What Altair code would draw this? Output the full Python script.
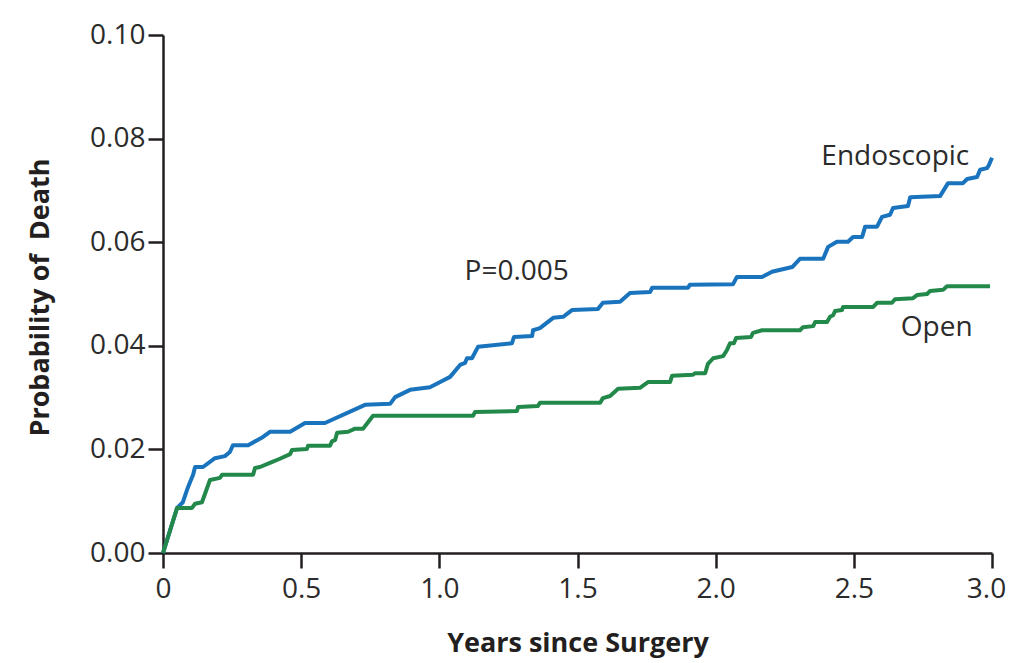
import altair as alt
import pandas as pd

# Endoscopic (blue) curve: years since surgery, probability of death
endo_years = [0, 0.051, 0.072, 0.087, 0.098, 0.109, 0.116, 0.145, 0.188, 0.224, 0.242, 0.253, 0.308,
              0.362, 0.387, 0.460, 0.514, 0.586, 0.731, 0.822, 0.840, 0.894, 0.966, 1.003, 1.039,
              1.075, 1.093, 1.100, 1.118, 1.140, 1.263, 1.270, 1.336, 1.339, 1.364, 1.412, 1.448,
              1.480, 1.574, 1.592, 1.654, 1.690, 1.763, 1.770, 1.900, 1.907, 2.063, 2.077, 2.168,
              2.204, 2.277, 2.305, 2.389, 2.407, 2.439, 2.479, 2.497, 2.530, 2.541, 2.584, 2.602,
              2.631, 2.642, 2.696, 2.704, 2.812, 2.841, 2.895, 2.910, 2.946, 2.957, 2.982, 2.989, 3.000]
endo_prob = [0, 0.0087, 0.0098, 0.0122, 0.0137, 0.0151, 0.0166, 0.0166, 0.0183, 0.0187, 0.0195, 0.0208, 0.0208,
             0.0224, 0.0234, 0.0234, 0.0251, 0.0251, 0.0286, 0.0288, 0.0301, 0.0315, 0.0320, 0.0330, 0.0340,
             0.0363, 0.0367, 0.0376, 0.0376, 0.0398, 0.0405, 0.0417, 0.0419, 0.0430, 0.0434, 0.0454, 0.0456,
             0.0469, 0.0471, 0.0483, 0.0485, 0.0502, 0.0504, 0.0512, 0.0512, 0.0518, 0.0519, 0.0533, 0.0533,
             0.0543, 0.0552, 0.0568, 0.0568, 0.0591, 0.0601, 0.0601, 0.0610, 0.0610, 0.0630, 0.0630, 0.0649,
             0.0653, 0.0666, 0.0670, 0.0687, 0.0689, 0.0714, 0.0714, 0.0722, 0.0726, 0.0740, 0.0743, 0.0749, 0.0763]

# Open (green) curve
open_years = [0, 0.051, 0.105, 0.116, 0.141, 0.170, 0.206, 0.214, 0.326, 0.333, 0.351, 0.387, 0.423,
              0.460, 0.467, 0.521, 0.525, 0.604, 0.612, 0.623, 0.630, 0.670, 0.695, 0.724, 0.760,
              1.122, 1.129, 1.281, 1.285, 1.357, 1.364, 1.582, 1.592, 1.618, 1.647, 1.726, 1.755,
              1.835, 1.842, 1.918, 1.925, 1.962, 1.972, 1.991, 2.027, 2.041, 2.052, 2.066, 2.074,
              2.128, 2.135, 2.168, 2.305, 2.316, 2.353, 2.360, 2.403, 2.414, 2.425, 2.432, 2.457,
              2.461, 2.570, 2.584, 2.638, 2.649, 2.714, 2.729, 2.765, 2.776, 2.823, 2.837, 2.993]
open_prob = [0, 0.0087, 0.0087, 0.0095, 0.0098, 0.0141, 0.0145, 0.0151, 0.0151, 0.0164, 0.0166, 0.0174, 0.0182,
             0.0191, 0.0199, 0.0201, 0.0207, 0.0207, 0.0216, 0.0218, 0.0232, 0.0234, 0.0240, 0.0240, 0.0265,
             0.0265, 0.0272, 0.0274, 0.0282, 0.0284, 0.0290, 0.0290, 0.0299, 0.0303, 0.0317, 0.0319, 0.0330,
             0.0330, 0.0342, 0.0344, 0.0347, 0.0347, 0.0365, 0.0376, 0.0380, 0.0392, 0.0405, 0.0405, 0.0415,
             0.0417, 0.0425, 0.0430, 0.0430, 0.0436, 0.0438, 0.0446, 0.0446, 0.0456, 0.0459, 0.0467, 0.0469,
             0.0475, 0.0475, 0.0483, 0.0483, 0.0490, 0.0492, 0.0498, 0.0500, 0.0506, 0.0508, 0.0515, 0.0515]

# Annotations
note_text = ["Endoscopic", "P=0.005", "Open"]
note_x = [2.65, 1.28, 2.80]
note_y = [0.0764, 0.0543, 0.0434]

x_ticks = [0, 0.5, 1.0, 1.5, 2.0, 2.5, 3.0]
y_ticks = [0.00, 0.02, 0.04, 0.06, 0.08, 0.10]

rows = []
for i, (xv, yv) in enumerate(zip(endo_years, endo_prob)):
    rows.append({"group": "Endoscopic", "years": xv, "prob": yv, "idx": i})
for i, (xv, yv) in enumerate(zip(open_years, open_prob)):
    rows.append({"group": "Open", "years": xv, "prob": yv, "idx": i})
df = pd.DataFrame(rows)
notes = pd.DataFrame({"text": note_text, "years": note_x, "prob": note_y})

FONT = "Open Sans"
AXIS_COLOR = "#231f20"

x_enc = alt.X("years:Q",
              scale=alt.Scale(domain=[0, 3], nice=False, zero=False),
              axis=alt.Axis(values=x_ticks, title="Years since Surgery",
                            labelExpr="datum.value == 0 ? '0' : format(datum.value, '.1f')",
                            labelFlush=False,
                            labelOffset={"expr": "datum.value == 3 ? -6 : 0"},
                            titleY=90, titleBaseline="middle"))
y_enc = alt.Y("prob:Q",
              scale=alt.Scale(domain=[0, 0.1], nice=False),
              axis=alt.Axis(values=y_ticks, format=".2f", title="Probability of\u00a0 Death",
                            labelFlush=False,
                            titleX=-123, titleY=262, titleBaseline="middle", titleAngle=-90))

lines = alt.Chart(df).mark_line(strokeWidth=4, strokeJoin="round").encode(
    x=x_enc, y=y_enc,
    color=alt.Color("group:N", scale=alt.Scale(domain=["Endoscopic", "Open"],
                                               range=["#1a74bd", "#23894b"]), legend=None),
    order="idx:Q",
)

labels = alt.Chart(notes).mark_text(font=FONT, fontSize=28, color="#2b2b2b",
                                    align="center", baseline="middle").encode(
    x="years:Q", y="prob:Q", text="text:N")

chart = alt.layer(lines, labels).properties(
    width=829, height=518,
    autosize=alt.AutoSizeParams(type="none"),
    padding={"left": 155, "top": 27, "right": 14, "bottom": 110},
    background="white",
).configure_view(stroke=None).configure_axis(
    grid=False,
    domainColor=AXIS_COLOR, domainWidth=2.5,
    tickColor=AXIS_COLOR, tickWidth=2.5, tickSize=15,
    labelFont=FONT, labelFontSize=28, labelColor="#2b2b2b",
    titleFont=FONT, titleFontSize=27, titleFontWeight="bold", titleColor="#231f20",
).configure_axisX(labelPadding=7).configure_axisY(labelPadding=3)

chart.save("out.html", embed_options={"renderer": "svg", "actions": False})
